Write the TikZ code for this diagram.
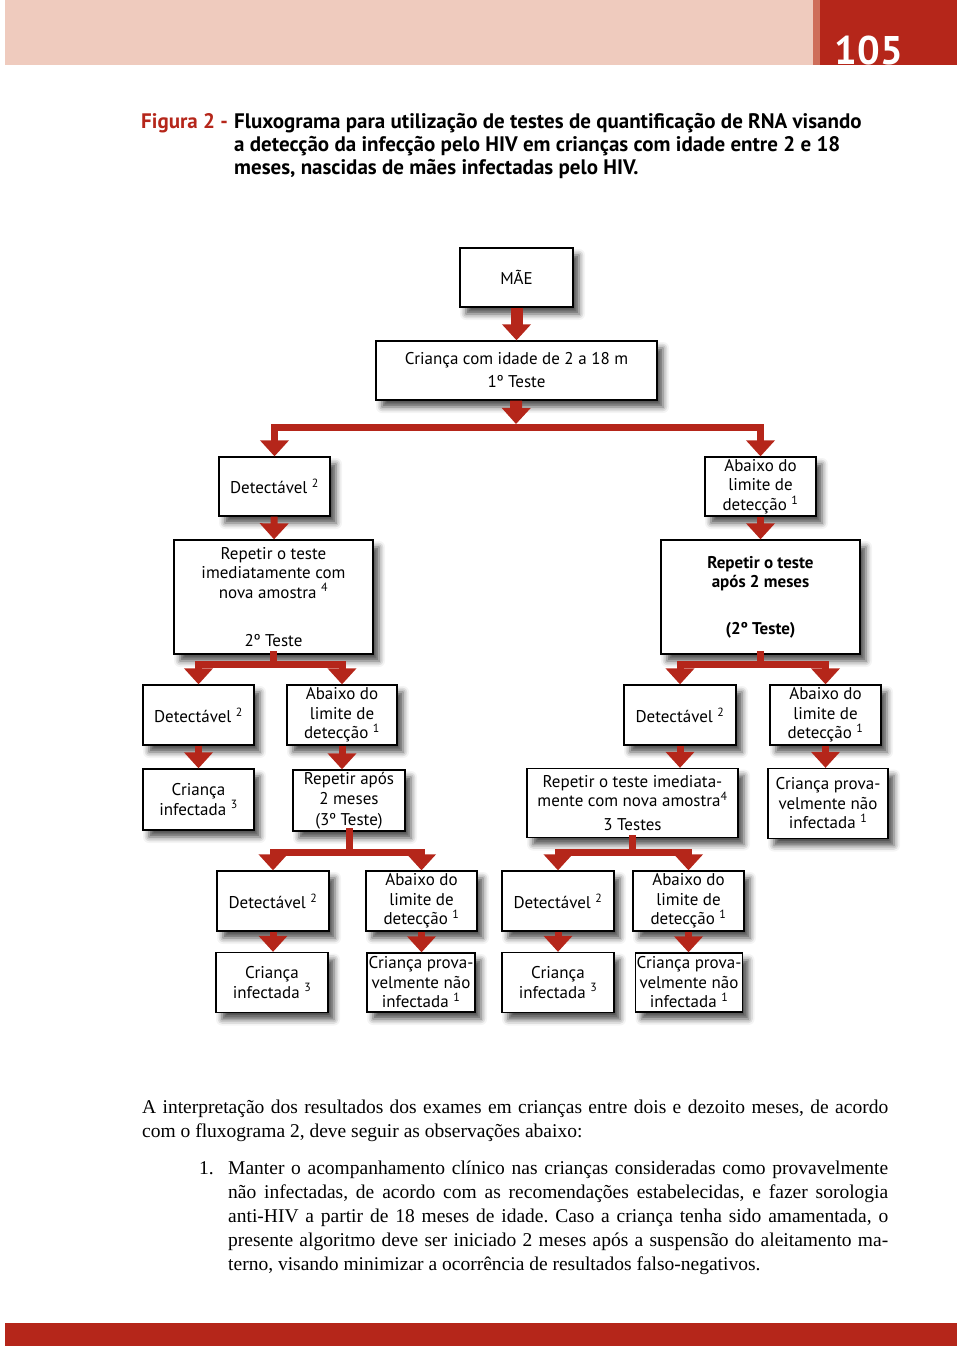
\documentclass[tikz,border=0pt]{standalone}
\usepackage{fontspec}
\setmainfont{Liberation Serif}
\newfontfamily\boxfont{PT Sans}
\usetikzlibrary{arrows.meta,shadows.blur}
\definecolor{hivred}{RGB}{181,38,26}
\definecolor{headpink}{RGB}{239,203,190}
\definecolor{headstripe}{RGB}{206,110,90}
\tikzset{
    box/.style={draw, line width=1.3pt, fill=white, align=center, inner sep=0pt,
        font=\boxfont\fontsize{17}{19.5}\selectfont,
        blur shadow={shadow xshift=6pt, shadow yshift=-7pt, shadow blur radius=6pt, shadow opacity=70}},
    redbar/.style={draw=hivred, line width=7pt, line cap=rect},
    redarrow/.style={draw=hivred, line width=7pt, -{Triangle[width=28pt,length=16pt]}},
    bigarrow/.style={redarrow, line width=12pt},
}
\newcommand{\jline}[2]{\makebox[#1][s]{#2}}

\begin{document}
\frenchspacing
\begin{tikzpicture}[x=1pt, y=-1pt]
    \useasboundingbox (0,0) rectangle (960,1346);

    % page header and footer
    \fill[headpink] (5,0) rectangle (813,65);
    \fill[headstripe] (813,0) rectangle (820,65);
    \fill[hivred] (820,0) rectangle (957,65);
    \fill[hivred] (5,1323) rectangle (957,1346);
    \node (pagenum) [text=white, font=\boxfont\bfseries\fontsize{40}{40}\selectfont] at (869,51) {105};

    % caption
    \node (caption) [anchor=base west, inner sep=0pt, font=\boxfont\bfseries\fontsize{21}{23}\selectfont] at (141,128)
        {\makebox[93pt][l]{\textcolor{hivred}{Figura 2 -}}\parbox[t]{720pt}{Fluxograma para utilização de testes de quantificação de RNA visando\\
        a detecção da infecção pelo HIV em crianças com idade entre 2 e 18\\
        meses, nascidas de mães infectadas pelo HIV.}};

    % boxes
    \node (mae) [box, minimum width=113, minimum height=59] at (516.5,277.5) {MÃE};
    \node (crianca) [box, minimum width=281, minimum height=59] at (516.5,370.5) {Criança com idade de 2 a 18 m\\[3.5pt]1º Teste};

    \node (det1) [box, minimum width=111, minimum height=59] at (274.5,486.5) {Detectável \textsuperscript{2}};
    \node (abx1) [box, minimum width=111, minimum height=59] at (760.5,486.5) {Abaixo do\\limite de\\detecção \textsuperscript{1}};

    \node (rep1) [box, minimum width=199, minimum height=114] at (273.5,597) {Repetir o teste\\imediatamente com\\nova amostra \textsuperscript{4}\\[29pt]2º Teste};
    \node (rep2) [box, minimum width=199, minimum height=114, font=\boxfont\bfseries\fontsize{17}{19.5}\selectfont] at (760.5,597) {Repetir o teste\\após 2 meses\\[27pt](2º Teste)};

    \node (det2) [box, minimum width=111, minimum height=60] at (198.5,715) {Detectável \textsuperscript{2}};
    \node (abx2) [box, minimum width=110, minimum height=60] at (342,715) {Abaixo do\\limite de\\detecção \textsuperscript{1}};
    \node (det3) [box, minimum width=112, minimum height=60] at (680,715) {Detectável \textsuperscript{2}};
    \node (abx3) [box, minimum width=111, minimum height=60] at (825.5,715) {Abaixo do\\limite de\\detecção \textsuperscript{1}};

    \node (inf1) [box, minimum width=111, minimum height=61] at (198.5,799.5) {Criança\\infectada \textsuperscript{3}};
    \node (rap) [box, minimum width=112, minimum height=61] at (349,800.5) {Repetir após\\2 meses\\[1.5pt](3º Teste)};
    \node (rep3) [box, minimum width=211, minimum height=69] at (632.5,803) {Repetir o teste imediata-\\mente com nova amostra\textsuperscript{4}\\[4pt]3 Testes};
    \node (nao1) [box, minimum width=120, minimum height=70] at (828,803.5) {Criança prova-\\velmente não\\infectada \textsuperscript{1}};

    \node (det4) [box, minimum width=112, minimum height=60] at (273,901) {Detectável \textsuperscript{2}};
    \node (abx4) [box, minimum width=111, minimum height=60] at (421.5,901) {Abaixo do\\limite de\\detecção \textsuperscript{1}};
    \node (det5) [box, minimum width=112, minimum height=60] at (558,901) {Detectável \textsuperscript{2}};
    \node (abx5) [box, minimum width=111, minimum height=60] at (688.5,901) {Abaixo do\\limite de\\detecção \textsuperscript{1}};

    \node (inf2) [box, minimum width=112, minimum height=60] at (272,982.5) {Criança\\infectada \textsuperscript{3}};
    \node (nao2) [box, minimum width=108, minimum height=59] at (421,982.5) {Criança prova-\\velmente não\\infectada \textsuperscript{1}};
    \node (inf3) [box, minimum width=112, minimum height=60] at (558,982.5) {Criança\\infectada \textsuperscript{3}};
    \node (nao3) [box, minimum width=107, minimum height=59] at (689,982.5) {Criança prova-\\velmente não\\infectada \textsuperscript{1}};

    % branch points
    \coordinate (b1) at (516,427);
    \coordinate (b2) at (273.5,664);
    \coordinate (b3) at (760.5,664);
    \coordinate (b4) at (349,852);
    \coordinate (b5) at (632.5,852);

    % arrows
    \draw[bigarrow] (mae) -- (crianca);
    \draw[bigarrow] (crianca) -- ([yshift=3pt]b1);
    \draw[redbar] (det1.north |- b1) -- (abx1.north |- b1);
    \draw[redarrow] (det1.north |- b1) -- (det1.north);
    \draw[redarrow] (abx1.north |- b1) -- (abx1.north);
    \draw[redarrow] (det1) -- (rep1);
    \draw[redarrow] (abx1) -- (rep2);

    \draw[redbar] (rep1.south) -- (b2);
    \draw[redbar] (det2.north |- b2) -- (abx2.north |- b2);
    \draw[redarrow] (det2.north |- b2) -- (det2.north);
    \draw[redarrow] (abx2.north |- b2) -- (abx2.north);
    \draw[redbar] (rep2.south) -- (b3);
    \draw[redbar] (det3.north |- b3) -- (abx3.north |- b3);
    \draw[redarrow] (det3.north |- b3) -- (det3.north);
    \draw[redarrow] (abx3.north |- b3) -- (abx3.north);

    \draw[redarrow] (det2) -- (inf1);
    \draw[redarrow] (abx2.south) -- (abx2.south |- rap.north);
    \draw[redarrow] (det3) -- (det3 |- rep3.north);
    \draw[redarrow] (abx3.south) -- (abx3.south |- nao1.north);

    \draw[redbar] (rap.south) -- (b4);
    \draw[redbar] (det4.north |- b4) -- (abx4.north |- b4);
    \draw[redarrow] (det4.north |- b4) -- (det4.north);
    \draw[redarrow] (abx4.north |- b4) -- (abx4.north);
    \draw[redbar] (rep3.south) -- (b5);
    \draw[redbar] (det5.north |- b5) -- (abx5.north |- b5);
    \draw[redarrow] (det5.north |- b5) -- (det5.north);
    \draw[redarrow] (abx5.north |- b5) -- (abx5.north);

    \draw[redarrow] (det4.south) -- (det4.south |- inf2.north);
    \draw[redarrow] (abx4.south) -- (abx4.south |- nao2.north);
    \draw[redarrow] (det5.south) -- (det5.south |- inf3.north);
    \draw[redarrow] (abx5.south) -- (abx5.south |- nao3.north);

    % text below
    \node (intro) [anchor=base west, inner sep=0pt, font=\fontsize{19.5}{24}\selectfont] at (142,1113)
        {\parbox[t]{746pt}{\jline{746pt}{A interpretação dos resultados dos exames em crianças entre dois e dezoito meses, de acordo}\\
        com o fluxograma 2, deve seguir as observações abaixo:}};
    \node (num1) [anchor=base west, inner sep=0pt, font=\fontsize{19.5}{24}\selectfont] at (199,1174) {1.};
    \node (obs1) [anchor=base west, inner sep=0pt, font=\fontsize{19.5}{24}\selectfont] at (228,1174)
        {\parbox[t]{660pt}{\jline{660pt}{Manter o acompanhamento clínico nas crianças consideradas como provavelmente}\\
        \jline{660pt}{não infectadas, de acordo com as recomendações estabelecidas, e fazer sorologia}\\
        \jline{660pt}{anti-HIV a partir de 18 meses de idade. Caso a criança tenha sido amamentada, o}\\
        \jline{660pt}{presente algoritmo deve ser iniciado 2 meses após a suspensão do aleitamento ma-}\\
        terno, visando minimizar a ocorrência de resultados falso-negativos.}};
\end{tikzpicture}
\end{document}
